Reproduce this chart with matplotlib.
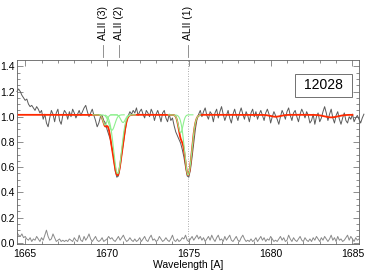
import numpy as np
import matplotlib
matplotlib.use("Agg")
import matplotlib.pyplot as plt
from matplotlib.patches import Rectangle

plt.rcParams["font.family"] = ["Liberation Sans", "DejaVu Sans"]

# observed spectrum, sampled every 0.1 A from 1664.5 A
wave_start = 1664.5
flux = [
    1.20, 1.22, 1.20, 1.17, 1.15, 1.13, 1.14, 1.10, 1.08, 1.09,
    1.07, 1.05, 1.08, 1.06, 1.03, 1.05, 0.98, 1.02, 0.95, 0.92,
    0.99, 1.05, 1.02, 0.96, 1.03, 1.06, 0.97, 0.94, 1.01, 1.05,
    1.03, 0.98, 1.04, 1.00, 1.06, 1.03, 0.99, 1.02, 1.05, 1.01,
    1.04, 1.07, 1.09, 1.04, 1.00, 1.03, 1.06, 1.01, 0.97, 0.92,
    0.95, 1.00, 1.01, 0.97, 0.95, 0.90, 0.86, 0.82, 0.75, 0.68,
    0.57, 0.52, 0.53, 0.60, 0.70, 0.79, 0.88, 0.96, 1.01, 1.04,
    1.02, 1.05, 1.03, 1.07, 1.01, 1.04, 1.06, 1.02, 0.99, 1.05,
    1.03, 1.00, 1.06, 1.03, 0.97, 1.02, 1.05, 1.01, 0.96, 1.03,
    1.05, 0.99, 0.96, 1.02, 0.97, 0.99, 0.93, 0.88, 0.85, 0.82,
    0.79, 0.74, 0.68, 0.60, 0.53, 0.52, 0.58, 0.68, 0.79, 0.90,
    0.98, 1.02, 1.05, 1.00, 1.04, 1.07, 1.01, 0.98, 1.04, 1.02,
    0.96, 1.03, 1.06, 0.99, 1.04, 1.08, 1.02, 0.97, 1.01, 1.05,
    0.99, 0.95, 1.02, 1.06, 1.01, 0.97, 1.03, 1.07, 1.02, 0.98,
    1.04, 1.01, 0.96, 1.03, 1.06, 1.00, 1.04, 0.98, 1.02, 1.05,
    1.01, 0.97, 1.03, 1.06, 1.02, 0.95, 1.00, 1.04, 1.01, 0.98,
    0.94, 1.00, 1.05, 1.02, 0.98, 1.04, 1.07, 1.01, 0.97, 1.03,
    1.05, 1.00, 0.96, 1.02, 1.06, 1.03, 0.99, 1.04, 1.01, 0.95,
    0.97, 1.02, 0.94, 1.00, 1.03, 0.96, 0.99, 1.04, 1.08, 1.03,
    0.97, 1.02, 1.06, 0.99, 0.95, 1.01, 1.04, 0.98, 0.94, 0.99,
    1.03, 0.97, 0.95, 1.00, 0.98, 1.02, 0.96, 0.99, 1.01, 0.98,
    0.95, 0.99, 1.02,
]
error = [
    0.08, 0.06, 0.05, 0.07, 0.04, 0.05, 0.03, 0.02, 0.04, 0.01,
    0.03, 0.02, 0.05, 0.03, 0.01, 0.04, 0.02, 0.06, 0.10, 0.05,
    0.02, 0.03, 0.07, 0.04, 0.01, 0.02, 0.03, 0.01, 0.02, 0.01,
    0.02, 0.01, 0.03, 0.02, 0.01, 0.04, 0.02, 0.01, 0.06, 0.02,
    0.01, 0.05, 0.02, 0.04, 0.07, 0.03, 0.01, 0.03, 0.05, 0.02,
    0.01, 0.02, 0.04, 0.01, 0.02, 0.03, 0.05, 0.03, 0.04, 0.02,
    0.01, 0.03, 0.05, 0.02, 0.04, 0.06, 0.03, 0.01, 0.02, 0.04,
    0.02, 0.01, 0.03, 0.01, 0.02, 0.04, 0.01, 0.03, 0.05, 0.02,
    0.01, 0.04, 0.06, 0.02, 0.03, 0.01, 0.02, 0.05, 0.03, 0.01,
    0.02, 0.04, 0.02, 0.01, 0.03, 0.06, 0.02, 0.01, 0.03, 0.01,
    0.02, 0.04, 0.03, 0.06, 0.02, 0.01, 0.03, 0.05, 0.02, 0.04,
    0.06, 0.03, 0.05, 0.02, 0.04, 0.01, 0.03, 0.05, 0.02, 0.06,
    0.03, 0.01, 0.04, 0.06, 0.02, 0.03, 0.01, 0.05, 0.02, 0.04,
    0.06, 0.02, 0.01, 0.03, 0.05, 0.02, 0.01, 0.04, 0.06, 0.03,
    0.01, 0.02, 0.01, 0.03, 0.01, 0.02, 0.04, 0.01, 0.03, 0.05,
    0.02, 0.04, 0.01, 0.03, 0.02, 0.05, 0.03, 0.01, 0.02, 0.01,
    0.03, 0.05, 0.02, 0.04, 0.01, 0.02, 0.06, 0.03, 0.01, 0.04,
    0.02, 0.01, 0.03, 0.05, 0.02, 0.01, 0.04, 0.02, 0.01, 0.03,
    0.01, 0.04, 0.02, 0.05, 0.03, 0.01, 0.04, 0.02, 0.05, 0.03,
    0.01, 0.03, 0.06, 0.02, 0.04, 0.01, 0.05, 0.02, 0.03, 0.01,
    0.02, 0.04, 0.06, 0.02, 0.05, 0.03, 0.01, 0.04, 0.02, 0.03,
]

# fitted absorption components (AlII): centre [A], central depth, gaussian sigma [A]
comp_centre = [1669.88, 1670.30, 1670.65, 1670.98, 1674.50, 1674.96]
comp_depth = [0.08, 0.12, 0.46, 0.06, 0.14, 0.47]
comp_sigma = [0.12, 0.18, 0.24, 0.14, 0.14, 0.22]
# weak unrelated features in the full model only
extra_centre = [1680.3, 1683.7]
extra_depth = [0.015, 0.02]
extra_sigma = [0.3, 0.4]
continuum = 1.015
model_range = (1664.6, 1685.0)

line_names = ["ALII (3)", "ALII (2)", "ALII (1)"]
line_waves = [1669.78, 1670.75, 1674.98]
label_text = "12028"


def absorb(wave, centres, depths, sigmas):
    f = np.ones_like(wave)
    for c, d, s in zip(centres, depths, sigmas):
        f *= 1.0 - d * np.exp(-0.5 * ((wave - c) / s) ** 2)
    return f


def main():
    wave_f = wave_start + 0.1 * np.arange(len(flux))
    wave_e = wave_start + 0.1 * np.arange(len(error))

    fig = plt.figure(figsize=(3.65, 2.75), dpi=100)
    ax = fig.add_axes([17 / 365, 31 / 275, 342 / 365, 184 / 275])

    ax.plot(wave_f, flux, color="#5a5a5a", lw=0.7, zorder=2, clip_on=False)
    ax.plot(wave_e, error, color="#8a8a8a", lw=0.7, zorder=2)

    wm = np.linspace(*model_range, 1500)
    model = continuum * absorb(wm, comp_centre, comp_depth, comp_sigma) \
        * absorb(wm, extra_centre, extra_depth, extra_sigma)
    ax.plot(wm, model, color="#ff2a00", lw=1.3, zorder=3)

    for c, d, s in zip(comp_centre, comp_depth, comp_sigma):
        wg = np.linspace(c - 0.75, c + 0.75, 200)
        ax.plot(wg, continuum * absorb(wg, [c], [d], [s]), color="#8ef08e",
                lw=0.8, zorder=4)

    ax.axvline(line_waves[2], color="#909090", lw=0.6, ls=(0, (1, 2)), zorder=1)

    for name, w in zip(line_names, line_waves):
        ax.plot([w, w], [1.016, 1.08], transform=ax.get_xaxis_transform(),
                color="#808080", lw=0.6, clip_on=False)
        ax.text(w, 1.11, name, transform=ax.get_xaxis_transform(), rotation=90,
                ha="center", va="bottom", fontsize=7.5)

    ax.add_patch(Rectangle((0.813, 0.799), 0.1667, 0.125, transform=ax.transAxes,
                           fill=False, ec="#707070", lw=0.7, zorder=5))
    ax.text(0.813 + 0.1667 / 2, 0.799 + 0.125 / 2, label_text, transform=ax.transAxes,
            ha="center", va="center", fontsize=10, zorder=6)

    ax.set_xlim(1664.5, 1685.4)
    ax.set_ylim(-0.01, 1.45)
    ax.set_xticks([1665, 1670, 1675, 1680, 1685])
    ax.set_xticks(np.arange(1665, 1686, 1), minor=True)
    ax.set_yticks([0.0, 0.2, 0.4, 0.6, 0.8, 1.0, 1.2, 1.4])
    ax.set_yticks(np.arange(0, 1.45, 0.05), minor=True)
    ax.yaxis.set_major_formatter(matplotlib.ticker.FormatStrFormatter("%.1f"))
    ax.tick_params(which="both", direction="in", top=True, right=True,
                   labelsize=7.5, width=0.5, color="#606060")
    ax.tick_params(which="major", length=4)
    ax.tick_params(which="minor", length=2)
    ax.tick_params(axis="x", pad=3.5)
    ax.tick_params(axis="y", pad=1.5)
    for sp in ax.spines.values():
        sp.set_linewidth(0.6)
        sp.set_color("#606060")
    ax.set_xlabel("Wavelength [A]", fontsize=7.5, labelpad=1)

    fig.savefig("out.png", dpi=100)
    plt.close(fig)


if __name__ == "__main__":
    main()
